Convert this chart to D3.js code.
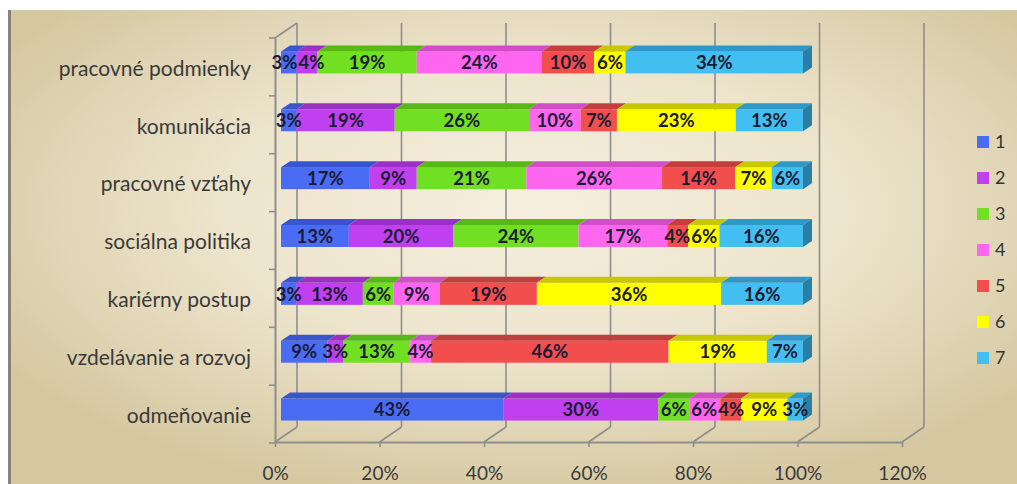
<!DOCTYPE html>
<html>
<head>
<meta charset="utf-8">
<script src="https://cdn.jsdelivr.net/npm/d3@7"></script>
<style>
  html, body { margin: 0; padding: 0; background: #ffffff; }
  svg { display: block; }
</style>
</head>
<body>
<svg id="chart" width="1017" height="484"></svg>
<script>
// Categories, top to bottom
const categories = [
  "pracovné podmienky",
  "komunikácia",
  "pracovné vzťahy",
  "sociálna politika",
  "kariérny postup",
  "vzdelávanie a rozvoj",
  "odmeňovanie"
];

// Series keys (answer levels 1..7)
const seriesKeys = ["1", "2", "3", "4", "5", "6", "7"];

// Share of answers (%) for each level, in category order
const level1 = [3, 3, 17, 13, 3, 9, 43];
const level2 = [4, 19, 9, 20, 13, 3, 30];
const level3 = [19, 26, 21, 24, 6, 13, 6];
const level4 = [24, 10, 26, 17, 9, 4, 6];
const level5 = [10, 7, 14, 4, 19, 46, 4];
const level6 = [6, 23, 7, 6, 36, 19, 9];
const level7 = [34, 13, 6, 16, 16, 7, 3];

// Axis tick values
const xTicks = [0, 0.2, 0.4, 0.6, 0.8, 1.0, 1.2];

const frontColors = ["#4a6cf5", "#c040f0", "#72e022", "#ff66f0", "#f24e4e", "#ffff00", "#42bff0"];
const topColors   = ["#3854cf", "#9c2fc8", "#58b818", "#d24ec8", "#c43e3e", "#c8c800", "#2e98c8"];
const sideColor   = "#2a7fa6";

const levels = [level1, level2, level3, level4, level5, level6, level7];
const table = categories.map((c, i) => {
  const row = { category: c };
  seriesKeys.forEach((k, j) => { row[k] = levels[j][i]; });
  return row;
});

const FONT = "Lato, 'Open Sans', sans-serif";
const svg = d3.select("#chart");

// Background panel with soft radial shading
const defs = svg.append("defs");
const grad = defs.append("radialGradient")
  .attr("id", "bg").attr("cx", "52%").attr("cy", "42%").attr("r", "62%")
  .attr("fx", "52%").attr("fy", "42%");
grad.append("stop").attr("offset", "0%").attr("stop-color", "#f5efdf");
grad.append("stop").attr("offset", "50%").attr("stop-color", "#ede4cc");
grad.append("stop").attr("offset", "100%").attr("stop-color", "#d5c8a1");

svg.append("rect").attr("x", 8).attr("y", 10).attr("width", 1009).attr("height", 474)
  .attr("fill", "url(#bg)");
svg.append("line").attr("x1", 9.5).attr("x2", 9.5).attr("y1", 10).attr("y2", 484)
  .attr("stroke", "#8a8278").attr("stroke-width", 3);

// Geometry of the 3-D plot
const depthX = 22, depthY = 15;            // wall depth offset
const floorY = 442, topY = 38;
const x = d3.scaleLinear().domain([0, 1.2]).range([275, 902]);
const xBar = d3.scaleLinear().domain([0, 1]).range([281, 803]);
const y = d3.scaleBand().domain(categories).range([topY, 443]);
const faceH = 22, barDX = 9, barDY = 6;

const gridColor = "#8e8e8e";

// Back-wall gridlines and floor diagonals
const grid = svg.append("g");
xTicks.forEach(t => {
  const fx = x(t);
  grid.append("line")
    .attr("x1", fx + depthX).attr("x2", fx + depthX)
    .attr("y1", floorY - depthY).attr("y2", topY - depthY)
    .attr("stroke", gridColor).attr("stroke-width", 1.6);
  grid.append("line")
    .attr("x1", fx).attr("y1", floorY)
    .attr("x2", fx + depthX).attr("y2", floorY - depthY)
    .attr("stroke", gridColor).attr("stroke-width", 1.6);
});
// left wall top edge
grid.append("line")
  .attr("x1", x(0)).attr("y1", topY)
  .attr("x2", x(0) + depthX).attr("y2", topY - depthY)
  .attr("stroke", gridColor).attr("stroke-width", 1.6);

// Bottom value axis
const xAxis = d3.axisBottom(x).tickValues(xTicks).tickFormat(d3.format(".0%"))
  .tickSize(5).tickPadding(20).tickSizeOuter(0);
const gx = svg.append("g").attr("transform", `translate(0,${floorY})`).call(xAxis);
gx.select(".domain").attr("stroke", gridColor).attr("stroke-width", 2);
gx.selectAll(".tick line").attr("stroke", gridColor).attr("stroke-width", 1.6);
gx.selectAll(".tick text")
  .attr("font-family", FONT).attr("font-size", 19)
  .attr("fill", "#3a3a3a");

// Left category axis
const yAxis = d3.axisLeft(y).tickSize(0).tickPadding(24);
const gy = svg.append("g").attr("transform", `translate(${x(0)},0)`).call(yAxis);
gy.select(".domain").attr("stroke", gridColor).attr("stroke-width", 2);
gy.selectAll(".tick text")
  .attr("font-family", FONT).attr("font-size", 21)
  .attr("fill", "#3a3a3a").attr("dy", "0.42em");
// tick marks at category boundaries
const bounds = categories.map(c => y(c)).concat([y.range()[1]]);
svg.append("g").selectAll("line").data(bounds).join("line")
  .attr("x1", x(0) - 6).attr("x2", x(0))
  .attr("y1", d => d).attr("y2", d => d)
  .attr("stroke", gridColor).attr("stroke-width", 1.6);

// Stacked 100% bars
const stack = d3.stack().keys(seriesKeys).offset(d3.stackOffsetExpand);
const layers = stack(table);

const bars = svg.append("g");
categories.forEach((cat, ci) => {
  const cy = y(cat) + y.bandwidth() / 2;
  const fy = cy - 15.5;
  const g = bars.append("g");
  layers.forEach((layer, li) => {
    const d = layer[ci];
    const x0 = xBar(d[0]), x1 = xBar(d[1]);
    g.append("rect")
      .attr("x", x0).attr("y", fy).attr("width", x1 - x0).attr("height", faceH)
      .attr("fill", frontColors[li]);
    g.append("path")
      .attr("d", `M${x0},${fy} L${x0 + barDX},${fy - barDY} L${x1 + barDX},${fy - barDY} L${x1},${fy} Z`)
      .attr("fill", topColors[li]);
    if (li === layers.length - 1) {
      g.append("path")
        .attr("d", `M${x1},${fy} L${x1 + barDX},${fy - barDY} L${x1 + barDX},${fy + faceH - barDY} L${x1},${fy + faceH} Z`)
        .attr("fill", sideColor);
    }
  });
  // value labels, centred on each segment and spread apart where they collide
  const labels = layers.map((layer, li) => {
    const d = layer[ci];
    const t = g.append("text")
      .attr("y", fy + faceH / 2)
      .attr("dy", "0.36em").attr("text-anchor", "middle")
      .attr("font-family", FONT)
      .attr("font-weight", "bold").attr("font-size", 18.5)
      .attr("fill", "#1b1b33")
      .text(d.data[seriesKeys[li]] + "%");
    return { node: t, cx: (xBar(d[0]) + xBar(d[1])) / 2, w: t.node().getComputedTextLength() };
  });
  for (let iter = 0; iter < 30; iter++) {
    for (let i = 1; i < labels.length; i++) {
      const a = labels[i - 1], b = labels[i];
      const overlap = (a.cx + a.w / 2 + 1) - (b.cx - b.w / 2);
      if (overlap > 0) { a.cx -= overlap / 2; b.cx += overlap / 2; }
    }
  }
  labels.forEach(l => l.node.attr("x", l.cx));
});

// Legend
const legend = svg.append("g").attr("transform", "translate(977,136)");
seriesKeys.forEach((k, i) => {
  const row = legend.append("g").attr("transform", `translate(0,${i * 36})`);
  row.append("rect").attr("width", 12).attr("height", 12).attr("fill", frontColors[i]);
  row.append("text").attr("x", 18).attr("y", 6).attr("dy", "0.36em")
    .attr("font-family", FONT).attr("font-size", 18)
    .attr("fill", "#333").text(k);
});
</script>
</body>
</html>
